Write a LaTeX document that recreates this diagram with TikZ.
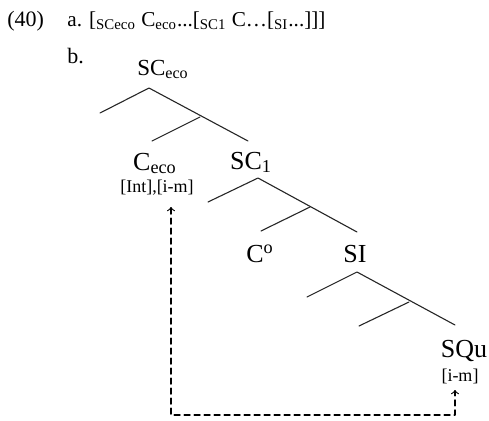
\documentclass[tikz,border=0pt]{standalone}
\usepackage{fontspec}
\setmainfont{Liberation Serif}

\tikzset{
  branch/.style={line width=0.55pt,draw=black!85},
  lab/.style={font=\fontsize{13}{15}\selectfont,inner sep=0pt,anchor=base},
  feat/.style={font=\fontsize{9}{11}\selectfont,inner sep=0pt,anchor=base},
  txt/.style={font=\fontsize{11}{13}\selectfont,inner sep=0pt,anchor=base west},
  movearrow/.style={line width=0.55pt,dash pattern=on 3pt off 2pt,<->}
}

\begin{document}
\begin{tikzpicture}[x=0.5pt,y=-0.5pt,line cap=round,line join=round]
  \useasboundingbox (0,0) rectangle (489,420);
  % top: SCeco
  \coordinate (A1) at (149,88);
  \coordinate (L1) at (100,113);
  \coordinate (M1) at (200,117);
  \coordinate (ML1) at (152,141);
  \coordinate (R1) at (248,141);
  % SC1
  \coordinate (A2) at (258,178);
  \coordinate (L2) at (208,202);
  \coordinate (M2) at (310,207);
  \coordinate (ML2) at (261,231);
  \coordinate (R2) at (357,232);
  % SI
  \coordinate (A3) at (357,272);
  \coordinate (L3) at (307,297);
  \coordinate (M3) at (409,302);
  \coordinate (ML3) at (359,326);
  \coordinate (R3) at (455,325);
  \draw[branch] (L1) -- (A1) -- (R1);
  \draw[branch] (M1) -- (ML1);
  \draw[branch] (L2) -- (A2) -- (R2);
  \draw[branch] (M2) -- (ML2);
  \draw[branch] (L3) -- (A3) -- (R3);
  \draw[branch] (M3) -- (ML3);
  % labels
  \node[txt] (exnum) at (7,26) {(40)};
  \node[txt,font=\fontsize{10.6}{13}\selectfont] (exa) at (67,26) {a. [\textsubscript{SCeco} C\textsubscript{eco}...[\textsubscript{SC1} C\ldots[\textsubscript{SI}...]]]};
  \node[txt] (exb) at (67,63) {b.};
  \node[lab,font=\fontsize{11.5}{13}\selectfont] (sceco) at (163,75) {SC\textsubscript{eco}};
  \node[lab] (ceco) at (155,170) {C\textsubscript{eco}};
  \node[feat] (cecofeat) at (157,192) {[Int],[i-m]};
  \node[lab] (sc1) at (251,169) {SC\textsubscript{1}};
  \node[lab] (cnull) at (260,262) {C\textsuperscript{o}};
  \node[lab] (si) at (355,262) {SI};
  \node[lab] (squ) at (464,357) {SQu};
  \node[feat] (squfeat) at (460,381) {[i-m]};
  % movement
  \coordinate (tip1) at (171,207);
  \coordinate (tip2) at (455,390);
  \coordinate (gap) at (313,415);
  \draw[movearrow] (tip1) |- (gap) -| (tip2);
\end{tikzpicture}
\end{document}
